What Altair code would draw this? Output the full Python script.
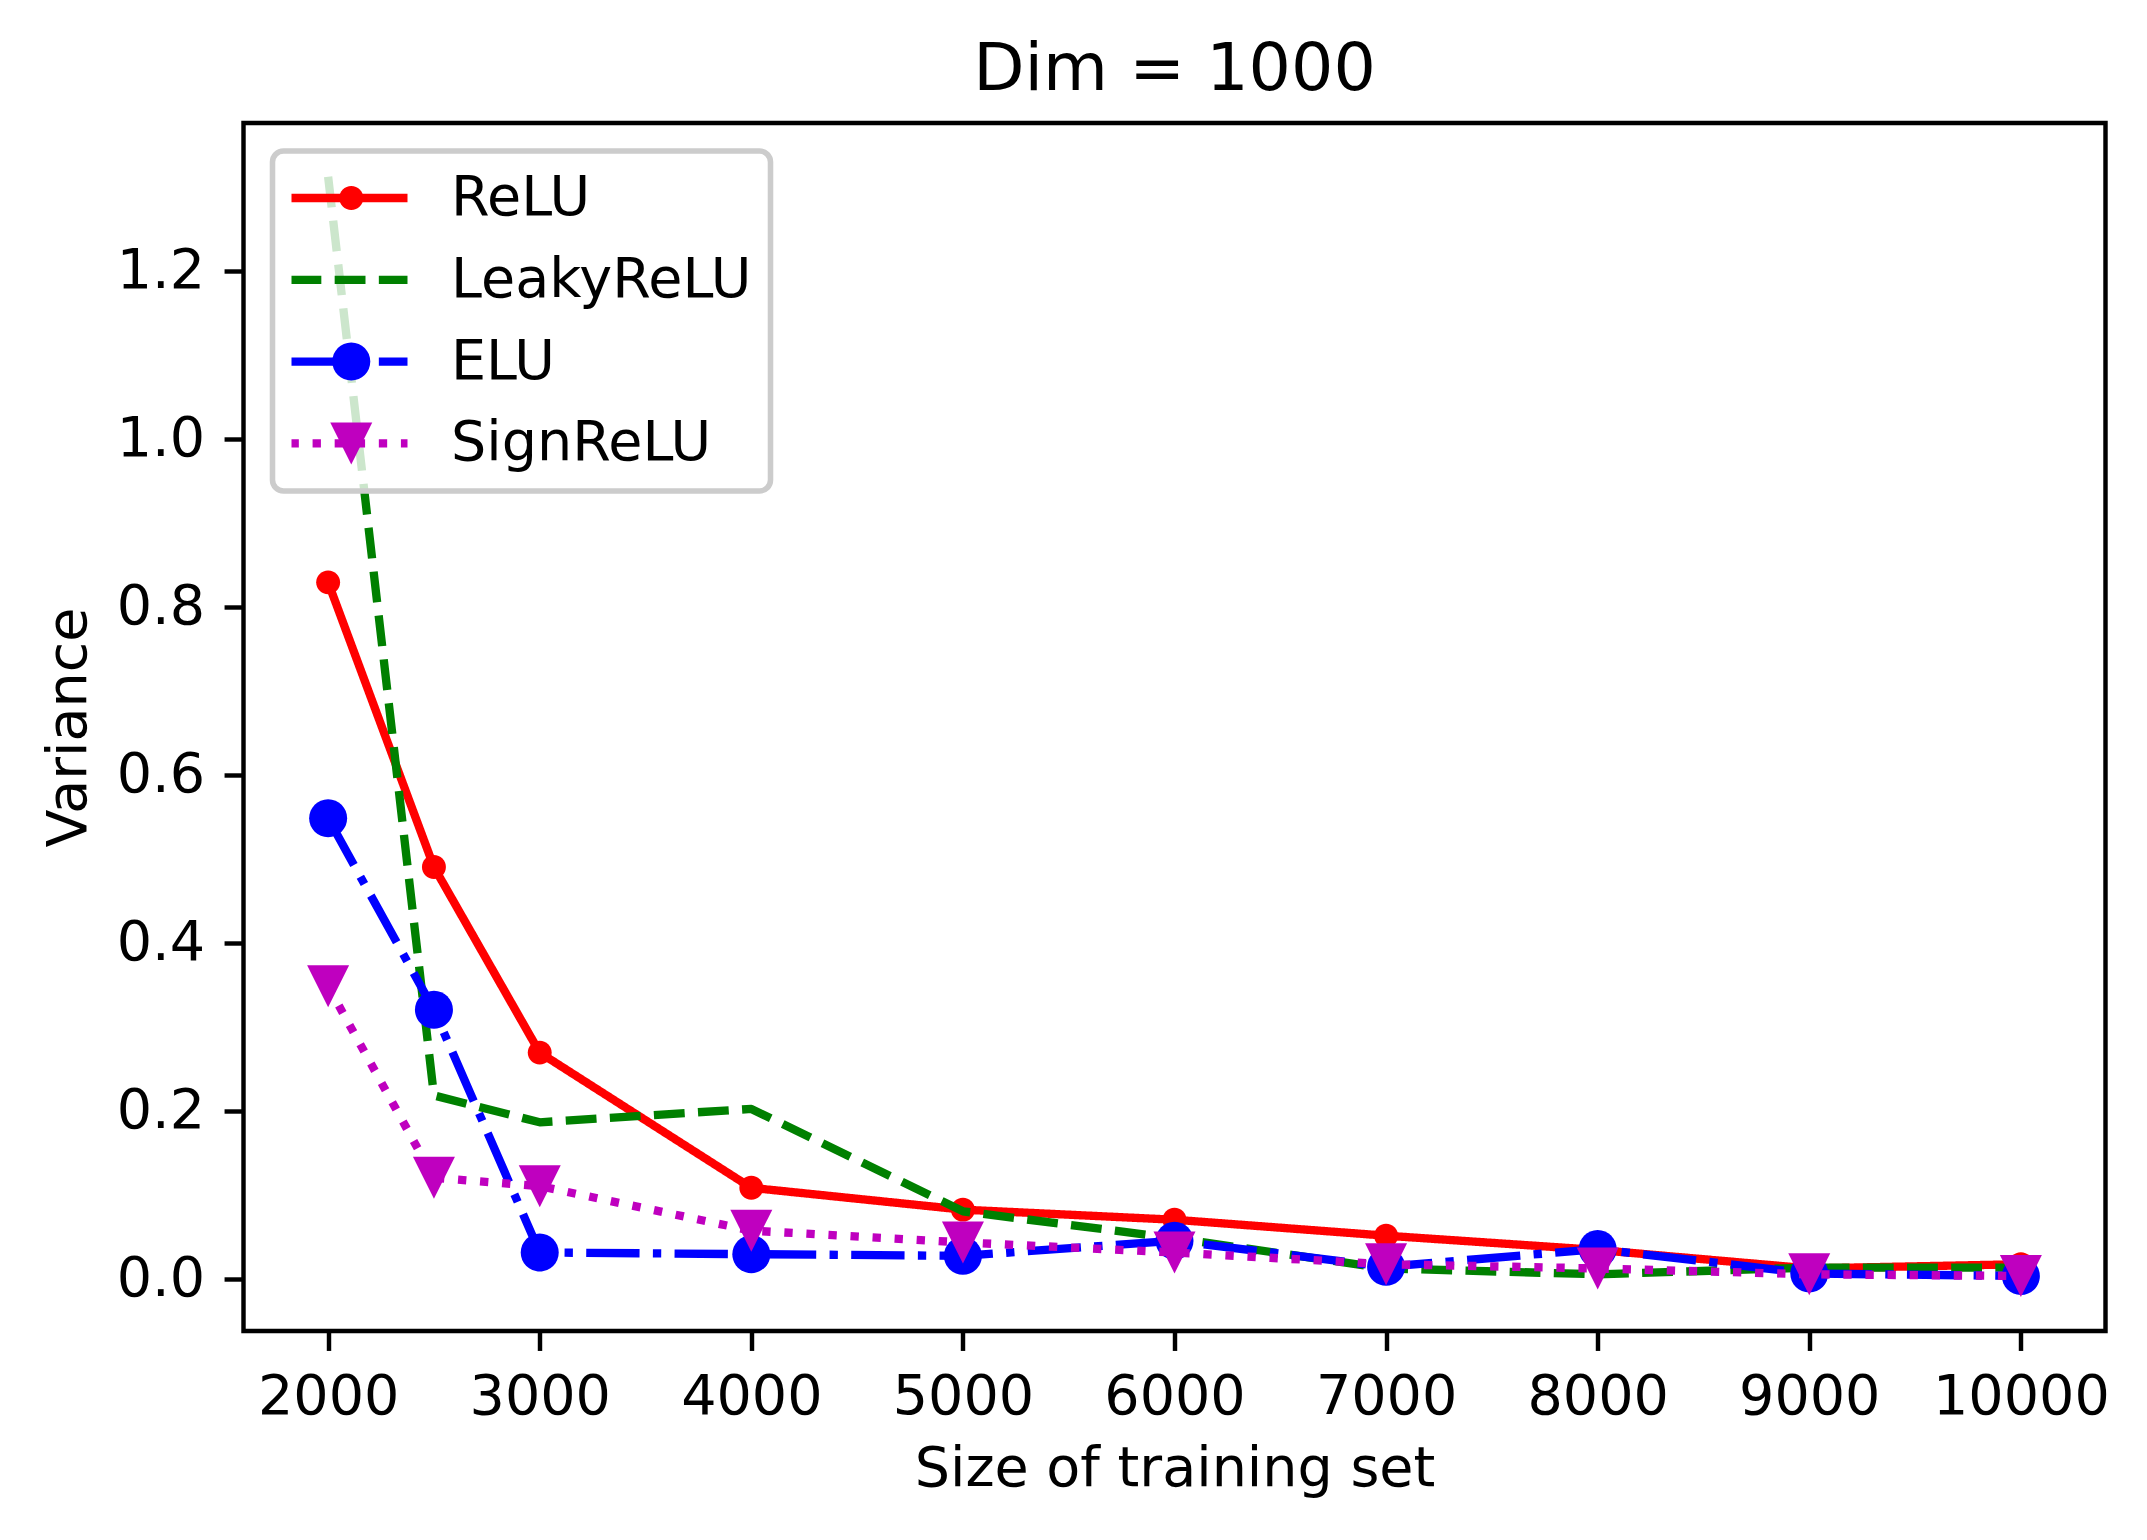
import altair as alt
import pandas as pd

# ---- data ----
sizes = [2000, 2500, 3000, 4000, 5000, 6000, 7000, 8000, 9000, 10000]
relu = [0.829, 0.490, 0.269, 0.108, 0.082, 0.070, 0.051, 0.034, 0.012, 0.017]
leaky = [1.312, 0.218, 0.186, 0.202, 0.080, 0.048, 0.012, 0.005, 0.013, 0.013]
elu = [0.548, 0.320, 0.031, 0.029, 0.027, 0.045, 0.014, 0.035, 0.006, 0.003]
signrelu = [0.348, 0.120, 0.110, 0.057, 0.043, 0.031, 0.017, 0.012, 0.005, 0.003]
series_names = ["ReLU", "LeakyReLU", "ELU", "SignReLU"]
series_values = [relu, leaky, elu, signrelu]
x_ticks = [2000, 3000, 4000, 5000, 6000, 7000, 8000, 9000, 10000]
y_ticks = [0.0, 0.2, 0.4, 0.6, 0.8, 1.0, 1.2]

# marker keys (distinct values so that the marker legend stays separate)
marker_keys = [n + " marker" for n in series_names]

rows = []
for name, mkey, vals in zip(series_names, marker_keys, series_values):
    for s, v in zip(sizes, vals):
        rows.append({"size": s, "variance": v, "series": name, "series_m": mkey})
df = pd.DataFrame(rows)

# ---- styling ----
PT = 400 / 72.0
LW = 1.5 * PT
FS = 10 * PT
FONT = "DejaVu Sans"
colors = ["#ff0000", "#008000", "#0000ff", "#bf00bf"]
dashes = [[1, 0], [3.7 * LW, 1.6 * LW], [6.4 * LW, 1.6 * LW, 1.0 * LW, 1.6 * LW], [1.0 * LW, 1.65 * LW]]


def circle_path(r):
    return f"M{r},0A{r},{r} 0 1,1 {-r},0A{r},{r} 0 1,1 {r},0Z"


shapes = [circle_path(0.57), "M0,0L0,0Z", circle_path(0.905), "M-1,-1L1,-1L0,1Z"]
MSIZE = 42 ** 2

W, H = 1862, 1208
LEG_X, LEG_Y, LEG_PAD = 29, 28, 19
LINE_LEN = 117
SYM_SHIFT = -5.5
CLIP_H, ROW_PAD = 56, 24.8

line_legend = alt.Legend(
    title=None, orient="none", legendX=LEG_X, legendY=LEG_Y, padding=LEG_PAD,
    fillColor="rgba(255,255,255,0.8)", strokeColor="#cccccc", cornerRadius=11,
    symbolType="stroke", symbolSize=LINE_LEN ** 2, symbolStrokeWidth=LW,
    symbolOffset=SYM_SHIFT,
    clipHeight=CLIP_H, rowPadding=ROW_PAD, labelOffset=39, labelLimit=600,
    labelFont=FONT, labelFontSize=FS, labelColor="black",
)
pt_legend = alt.Legend(
    title=None, orient="none", legendX=LEG_X + LINE_LEN / 2 - 21 + SYM_SHIFT, legendY=LEG_Y,
    padding=LEG_PAD, strokeColor="transparent", symbolSize=MSIZE,
    symbolStrokeWidth=0, clipHeight=CLIP_H, rowPadding=ROW_PAD,
    labelExpr="''", labelFontSize=FS,
)

X = alt.X("size:Q", scale=alt.Scale(domain=[1600, 10400], nice=False, zero=False),
          axis=alt.Axis(values=x_ticks, format="d", title="Size of training set",
                        titlePadding=16.5))
Y = alt.Y("variance:Q", scale=alt.Scale(domain=[-0.0625, 1.376], nice=False, zero=False),
          axis=alt.Axis(values=y_ticks, format=".1f", title="Variance", titlePadding=19.2))

color_enc = alt.Color("series:N", scale=alt.Scale(domain=series_names, range=colors), legend=line_legend)
dash_enc = alt.StrokeDash("series:N", scale=alt.Scale(domain=series_names, range=dashes), legend=line_legend)
fill_enc = alt.Fill("series_m:N", scale=alt.Scale(domain=marker_keys, range=colors), legend=pt_legend)
shape_enc = alt.Shape("series_m:N", scale=alt.Scale(domain=marker_keys, range=shapes), legend=pt_legend)

base = alt.Chart(df)
layers = []
for name in series_names:
    sub = base.transform_filter(alt.datum.series == name)
    layers.append(
        sub.mark_line(strokeWidth=LW, strokeCap="butt", strokeJoin="round").encode(
            x=X, y=Y, color=color_enc, strokeDash=dash_enc)
    )
    if name != "LeakyReLU":
        layers.append(
            sub.mark_point(filled=True, opacity=1, size=MSIZE, strokeWidth=0).encode(
                x=X, y=Y, fill=fill_enc, shape=shape_enc)
        )

chart = (
    alt.layer(*layers)
    .properties(
        width=W, height=H,
        title=alt.TitleParams("Dim = 1000", font=FONT, fontSize=12 * PT, fontWeight="normal",
                              color="black", offset=19),
        padding={"left": 32.5, "top": 29, "right": 5, "bottom": 5},
        background="white",
    )
    .configure_view(stroke="black", strokeWidth=0.8 * PT)
    .configure_axis(
        domain=False, grid=False, ticks=True, tickSize=3.5 * PT, tickWidth=0.8 * PT,
        tickColor="black", labelFont=FONT, labelFontSize=FS, labelColor="black",
        labelPadding=3.5 * PT, labelFlush=False, titleFont=FONT, titleFontSize=FS,
        titleFontWeight="normal", titleColor="black",
    )
    .configure_legend(strokeWidth=1.0 * PT)
)

chart.save("out.html", embed_options={"renderer": "svg", "actions": False})
